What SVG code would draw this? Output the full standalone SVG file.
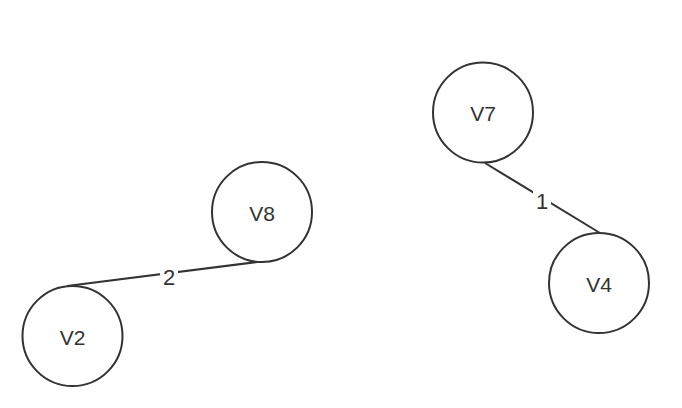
<svg xmlns="http://www.w3.org/2000/svg" width="682" height="408" viewBox="0 0 682 408">
<style>
.n{fill:#fff;stroke:#333;stroke-width:2}
.t{font-family:"Liberation Sans",Arial,sans-serif;font-size:21px;fill:#333;text-anchor:middle;dominant-baseline:central}
.e{stroke:#333;stroke-width:2;fill:none}
.l{font-family:"Liberation Sans",Arial,sans-serif;font-size:22px;fill:#333;text-anchor:middle;dominant-baseline:central}
</style>
<rect width="682" height="408" fill="#fff"/>
<g id="edges">
<line class="e" x1="485" y1="163" x2="600" y2="233"/>
<line class="e" x1="67" y1="286" x2="257" y2="262"/>
<rect x="533" y="189" width="18" height="24" fill="#fff"/>
<text class="l" x="542" y="201">1</text>
<rect x="160" y="265" width="18" height="24" fill="#fff"/>
<text class="l" x="169" y="277">2</text>
</g>
<g id="V7"><circle class="n" cx="483" cy="112.5" r="50"/><text class="t" x="483" y="113">V7</text></g>
<g id="V8"><circle class="n" cx="262" cy="212" r="50"/><text class="t" x="262" y="213">V8</text></g>
<g id="V2"><circle class="n" cx="72.5" cy="336" r="50"/><text class="t" x="72.5" y="337">V2</text></g>
<g id="V4"><circle class="n" cx="599" cy="283" r="50"/><text class="t" x="599" y="284">V4</text></g>
</svg>
